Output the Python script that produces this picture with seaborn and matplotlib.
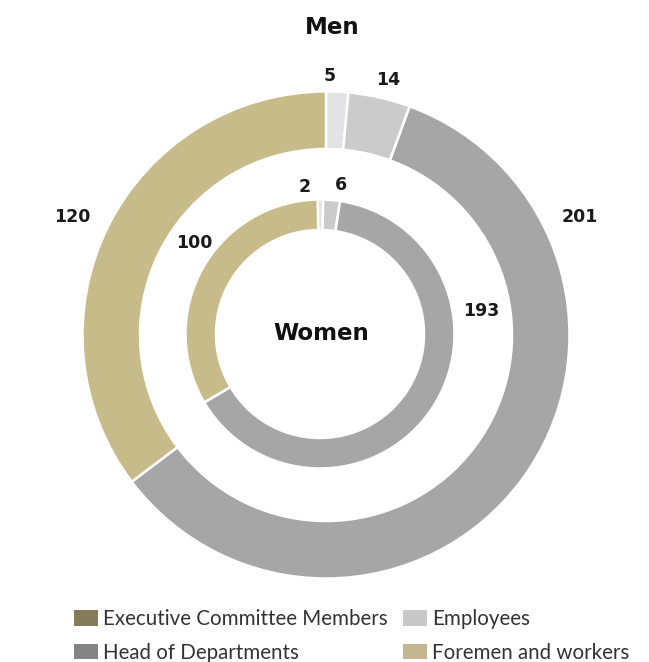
import numpy as np
import seaborn as sns
import matplotlib.pyplot as plt
from matplotlib.patches import Patch

# Data
categories = ['Executive Committee Members', 'Employees',
              'Head of Departments', 'Foremen and workers']
men = [5, 14, 201, 120]
women = [2, 6, 193, 100]

# Colours used in the rings and (slightly different) in the legend
ring_colors = ['#e3e3e5', '#cbcbcb', '#a6a6a6', '#c7bc89']
legend_colors = ['#857a5a', '#c8c8c8', '#848484', '#c4b68e']

sns.set_theme(style='white')
plt.rcParams['font.family'] = ['DejaVu Sans']

W, H = 649, 662
fig = plt.figure(figsize=(W / 100, H / 100), dpi=100)
ax = fig.add_axes([0, 0, 1, 1])

# ring geometry (pixels, y up)
outer_c, outer_r, outer_w = (326, 327), 243.5, 57.5
inner_c, inner_r, inner_w = (320, 328), 134.5, 30.5

wedge_style = dict(edgecolor='white', linewidth=1.8)
ax.pie(men, colors=ring_colors, startangle=90, counterclock=False,
       center=outer_c, radius=outer_r, frame=True,
       wedgeprops=dict(width=outer_w, **wedge_style))
ax.pie(women, colors=ring_colors, startangle=91, counterclock=False,
       center=inner_c, radius=inner_r, frame=True,
       wedgeprops=dict(width=inner_w, **wedge_style))

ax.set_xlim(0, W)
ax.set_ylim(0, H)
ax.set_aspect('equal')
ax.axis('off')

# value labels: (angle clockwise from top, distance from ring centre)
outer_lab_pos = [(0.9, 259), (13.7, 262), (65, 280), (295, 280)]
inner_lab_pos = [(-5.8, 148), (8, 150), (82, 163), (306, 155)]


def put_labels(values, centre, positions):
    for v, (ang, d) in zip(values, positions):
        a = np.deg2rad(ang)
        ax.text(centre[0] + d * np.sin(a), centre[1] + d * np.cos(a), str(v),
                ha='center', va='center', fontsize=12.5, fontweight='bold',
                color='#1a1a1a')


put_labels(men, outer_c, outer_lab_pos)
put_labels(women, inner_c, inner_lab_pos)

ax.text(332, H - 28, 'Men', ha='center', va='center', fontsize=16.5,
        fontweight='bold', color='#111111')
ax.text(321, H - 334, 'Women', ha='center', va='center', fontsize=16.5,
        fontweight='bold', color='#111111')

# legend: two columns, row-wise order
order = [0, 2, 1, 3]
handles = [Patch(facecolor=legend_colors[i], edgecolor='none',
                 label=categories[i]) for i in order]
leg = fig.legend(handles=handles, ncol=2, frameon=False,
                 loc='upper left', bbox_to_anchor=(64 / W, 1 - 599 / H),
                 borderpad=0, handlelength=1.15,
                 handleheight=0.8, handletextpad=0.25, columnspacing=0.75,
                 labelspacing=0.65, prop={'family': 'Lato', 'size': 14.8})
for t in leg.get_texts():
    t.set_color('#333333')

fig.savefig('out.png', dpi=100)
